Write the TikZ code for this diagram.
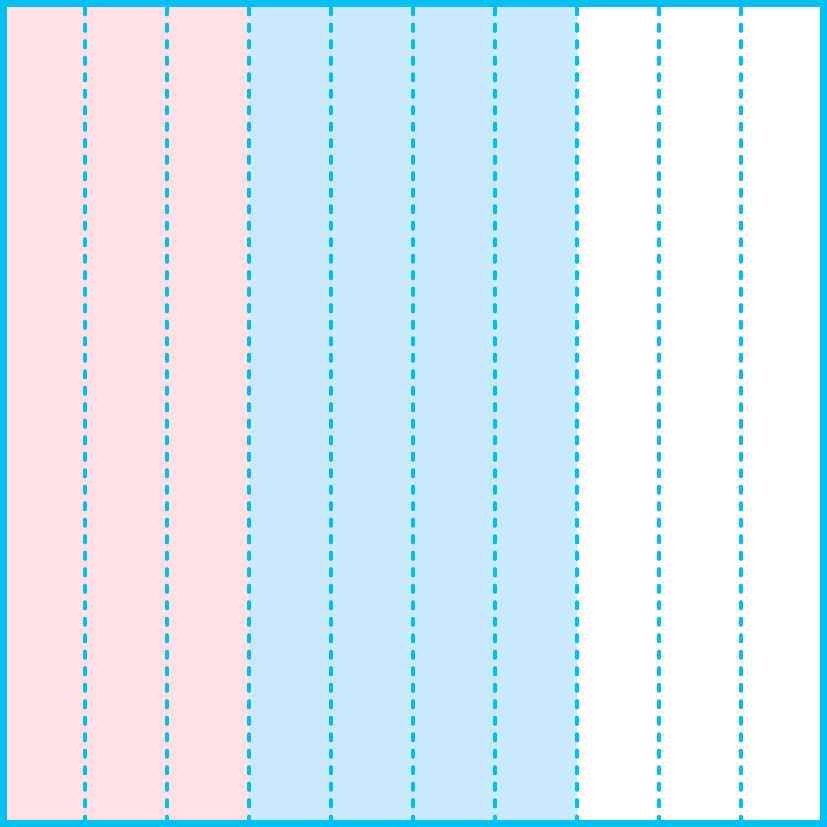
\documentclass[tikz,border=0pt]{standalone}
\definecolor{edge}{HTML}{00BFF3}
\definecolor{pinkfill}{HTML}{FFE0E6}
\definecolor{bluefill}{HTML}{C8EAFC}
\begin{document}
\begin{tikzpicture}[x=1pt,y=-1pt,
  divider/.style={draw=edge,line width=3.6pt,line cap=round,dash pattern=on 6.5pt off 10pt},
  frame/.style={draw=edge,line width=7pt}]
\useasboundingbox (0,0) rectangle (827,827);
\fill[pinkfill] (3,3) rectangle (249,823);
\fill[bluefill] (249,3) rectangle (577,823);
\foreach \i in {1,...,9}{
  \coordinate (t\i) at (3+82*\i,8);
  \coordinate (b\i) at (3+82*\i,823);
  \draw[divider] (t\i) -- (b\i);
}
\node[frame,minimum width=820pt,minimum height=820pt,inner sep=0pt] (box) at (413.5,413.5) {};
\end{tikzpicture}
\end{document}
